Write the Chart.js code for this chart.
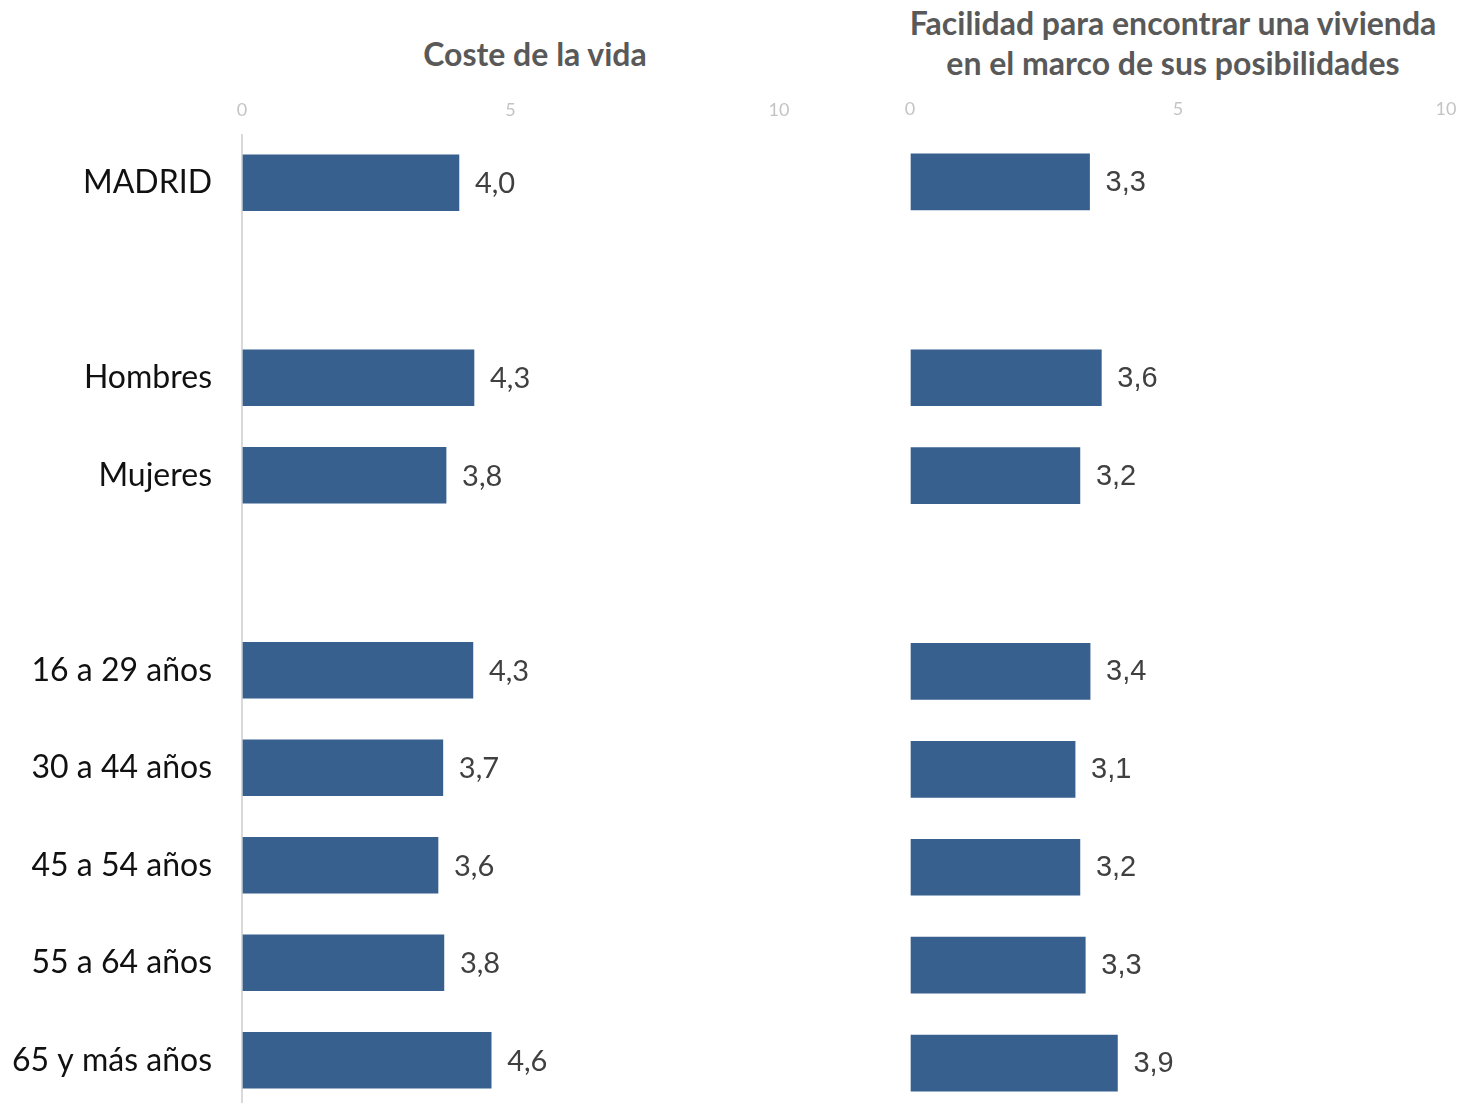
<!DOCTYPE html>
<html>
<head>
<meta charset="utf-8">
<script src="https://cdn.jsdelivr.net/npm/chart.js@4"></script>
<style>
  html, body { margin: 0; padding: 0; background: #fff; overflow: hidden; width: 1463px; height: 1103px; }
  .panel { position: absolute; top: 0; }
  .title { position: absolute; font-family: Lato, sans-serif; font-weight: bold; font-size: 32px; color: #595959; text-align: center; line-height: 40px; white-space: nowrap; }
</style>
</head>
<body>
<div class="title" id="title-left" style="left:335px; width:400px; top:34px;">Coste de la vida</div>
<div class="title" id="title-right" style="left:873px; width:600px; top:3px;">Facilidad para encontrar una vivienda<br>en el marco de sus posibilidades</div>
<div class="panel" style="left:0; width:800px; height:1115px;"><canvas id="left"></canvas></div>
<div class="panel" style="left:880px; width:583px; height:1120px;"><canvas id="right"></canvas></div>
<script>
const categories = ["MADRID", "", "Hombres", "Mujeres", "", "16 a 29 años", "30 a 44 años", "45 a 54 años", "55 a 64 años", "65 y más años"];
const costeVida = [4.04, null, 4.32, 3.80, null, 4.30, 3.74, 3.65, 3.76, 4.64];
const costeVidaLabels = ["4,0", "", "4,3", "3,8", "", "4,3", "3,7", "3,6", "3,8", "4,6"];
const vivienda = [3.35, null, 3.57, 3.17, null, 3.36, 3.08, 3.17, 3.27, 3.87];
const viviendaLabels = ["3,3", "", "3,6", "3,2", "", "3,4", "3,1", "3,2", "3,3", "3,9"];
const xTicks = [0, 5, 10];

const barColor = "#37608f";

// draws the value next to each bar
const valueLabels = {
    id: "valueLabels",
    afterDatasetsDraw(chart, args, opts) {
        const ctx = chart.ctx;
        const meta = chart.getDatasetMeta(0);
        ctx.save();
        ctx.fillStyle = "#404040";
        ctx.font = opts.font;
        ctx.textAlign = "left";
        ctx.textBaseline = "middle";
        meta.data.forEach((bar, i) => {
            const txt = opts.labels[i];
            if (!txt) return;
            ctx.fillText(txt, bar.x + 16, bar.y + 1);
        });
        ctx.restore();
    }
};

function makeChart(id, values, labels, showCats, top, padding, labelFont) {
    new Chart(document.getElementById(id), {
        type: "bar",
        data: {
            labels: categories,
            datasets: [{
                data: values,
                backgroundColor: barColor,
                barThickness: 56
            }]
        },
        options: {
            indexAxis: "y",
            responsive: true,
            maintainAspectRatio: false,
            animation: false,
            layout: { padding: padding },
            plugins: {
                legend: { display: false },
                tooltip: { enabled: false },
                valueLabels: { labels: labels, font: labelFont }
            },
            scales: {
                x: {
                    position: "top",
                    min: 0,
                    max: 10,
                    afterBuildTicks: s => { s.ticks = xTicks.map(v => ({ value: v })); },
                    afterFit: s => { s.height = top; s.paddingLeft = 0; s.paddingRight = 0; },
                    border: { display: false },
                    grid: {
                        drawTicks: false,
                        lineWidth: 2,
                        color: c => (showCats && c.tick && c.tick.value === 0) ? "#d9d9d9" : "rgba(0,0,0,0)"
                    },
                    ticks: {
                        padding: 13,
                        color: "#c4c4c4",
                        font: { family: "Lato", size: 18 }
                    }
                },
                y: {
                    display: showCats,
                    afterFit: s => {
                        if (showCats) s.width = 242;
                        s.paddingTop = 0;
                        s.paddingBottom = 0;
                    },
                    border: { display: false },
                    grid: { display: false, drawTicks: false },
                    ticks: {
                        padding: 30,
                        color: "#111111",
                        font: { family: "Lato", size: 32 }
                    }
                }
            }
        },
        plugins: [valueLabels]
    });
}

makeChart("left", costeVida, costeVidaLabels, true, 134, { left: 0, right: 21, top: 0, bottom: 6 }, "29px Lato");
makeChart("right", vivienda, viviendaLabels, false, 133, { left: 30, right: 17, top: 0, bottom: 8 }, "29px 'Liberation Sans', Arial, sans-serif");
</script>
</body>
</html>
